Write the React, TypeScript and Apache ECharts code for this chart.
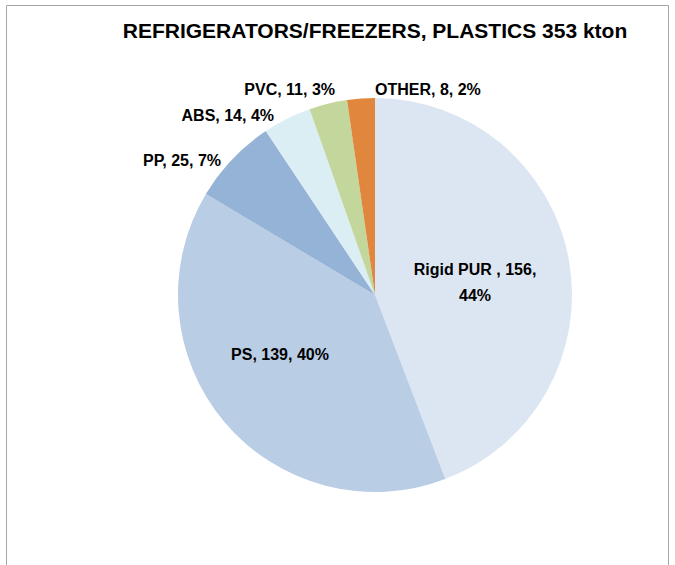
import React, { useEffect, useRef } from "react";
import * as echarts from "echarts";

const categories = ["Rigid PUR ", "PS", "PP", "ABS", "PVC", "OTHER"];
const values = [156, 139, 25, 14, 11, 8];
const percents = [44, 40, 7, 4, 3, 2];
const colors = ["#dce6f2", "#b9cde5", "#95b3d7", "#dbeef4", "#c3d69b", "#e0873d"];

const FONT = "'Liberation Sans', Arial, sans-serif";

// label anchor placement (x, y, alignment) per slice, mimicking Excel's best-fit
const labelPlace: { x: number; y: number; align: string }[] = [
  { x: 475, y: 282, align: "center" },
  { x: 280, y: 354, align: "center" },
  { x: 221, y: 160, align: "right" },
  { x: 274, y: 115, align: "right" },
  { x: 335, y: 89, align: "right" },
  { x: 375, y: 89, align: "left" },
];

export default function App() {
  const ref = useRef<HTMLDivElement>(null);
  useEffect(() => {
    const chart = echarts.init(ref.current!, null, { renderer: "svg" });
    const data = categories.map((c, i) => {
      const inside = i < 2;
      return {
        name: c,
        value: values[i],
        itemStyle: { color: colors[i] },
        label: inside
          ? {
              position: "inside",
              formatter: i === 0 ? `${c}, ${values[i]},\n${percents[i]}%` : `${c}, ${values[i]}, ${percents[i]}%`,
            }
          : { position: "outside", formatter: `${c}, ${values[i]}, ${percents[i]}%` },
        labelLine: { show: false },
      };
    });
    chart.setOption({
      animation: false,
      backgroundColor: "#ffffff",
      title: {
        text: "REFRIGERATORS/FREEZERS, PLASTICS 353 kton",
        left: 370,
        top: 15,
        textAlign: "center",
        textStyle: { fontFamily: FONT, fontSize: 21, fontWeight: "bold", color: "#000" },
      },
      graphic: [
        {
          type: "rect",
          shape: { x: 6.5, y: 5.5, width: 662, height: 600 },
          style: { fill: "none", stroke: "#a6a6a6", lineWidth: 1 },
          silent: true,
        },
      ],
      series: [
        {
          type: "pie",
          center: [375, 295],
          radius: 197,
          startAngle: 90,
          clockwise: true,
          data,
          itemStyle: { borderWidth: 0 },
          label: {
            fontFamily: FONT,
            fontSize: 16,
            fontWeight: "bold",
            color: "#000",
            lineHeight: 26,
          },
          labelLayout: (p: any) => {
            const pl = labelPlace[p.dataIndex];
            return { x: pl.x, y: pl.y, align: pl.align, verticalAlign: "middle" };
          },
          emphasis: { disabled: true },
        },
      ],
    });
    return () => chart.dispose();
  }, []);
  return <div ref={ref} style={{ position: "fixed", left: 0, top: 0, width: 675, height: 565 }} />;
}
